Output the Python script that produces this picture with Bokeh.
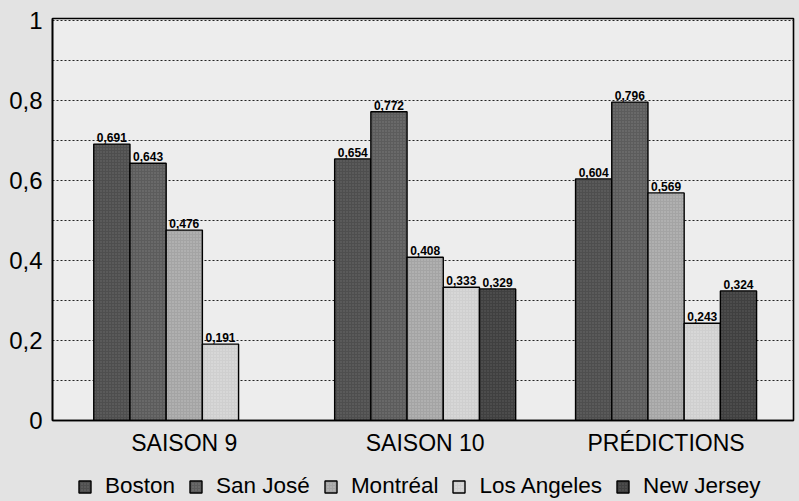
from bokeh.plotting import figure
from bokeh.layouts import column
from bokeh.models import (ColumnDataSource, Range1d, FixedTicker, Legend, LegendItem)
from bokeh.core.properties import value
from bokeh.embed import file_html
from bokeh.resources import INLINE

# ---- data ----
categories = ["SAISON 9", "SAISON 10", "PRÉDICTIONS"]
teams = ["Boston", "San José", "Montréal", "Los Angeles", "New Jersey"]
boston = [0.691, 0.654, 0.604]
san_jose = [0.643, 0.772, 0.796]
montreal = [0.476, 0.408, 0.569]
los_angeles = [0.191, 0.333, 0.243]
new_jersey = [None, 0.329, 0.324]
y_ticks = [0, 0.2, 0.4, 0.6, 0.8, 1]
y_tick_labels = ["0", "0,2", "0,4", "0,6", "0,8", "1"]
y_minor_ticks = [0.1, 0.3, 0.5, 0.7, 0.9]

series = [boston, san_jose, montreal, los_angeles, new_jersey]
colors = ["#4e4e4e", "#5c5c5c", "#a4a4a4", "#cfcfcf", "#404040"]
hatch_colors = ["#8a8a8a", "#9a9a9a", "#e0e0e0", "#f4f4f4", "#7a7a7a"]

FONT = "Liberation Sans"
BORDER = "#e3e3e3"
bar_w = 0.1503

def bar_style(j):
    return dict(fill_color=colors[j], line_color="black", line_width=1.4,
                hatch_pattern="dot", hatch_color=hatch_colors[j],
                hatch_scale=3, hatch_alpha=0.5)

p = figure(width=799, height=462, output_backend="svg", toolbar_location=None,
           x_range=Range1d(-0.547, 2.529), y_range=Range1d(0, 1.005),
           min_border_left=52, min_border_right=6, min_border_top=18,
           min_border_bottom=42)
p.background_fill_color = "#ededed"
p.border_fill_color = BORDER
p.outline_line_color = "black"
p.outline_line_width = 1.6

for j, (team, vals) in enumerate(zip(teams, series)):
    xs, tops, labels = [], [], []
    for i, v in enumerate(vals):
        if v is None:
            continue
        xs.append(i + (j - 2) * bar_w)
        tops.append(v)
        labels.append(f"{v:.3f}".replace(".", ","))
    src = ColumnDataSource(dict(x=xs, top=tops, label=labels))
    p.vbar(x="x", top="top", width=bar_w, source=src, **bar_style(j))
    p.text(x="x", y="top", text="label", source=src, text_align="center",
           text_baseline="bottom", y_offset=-2, text_font=value(FONT),
           text_font_size="12px", text_font_style="bold", text_color="black")

# y axis
p.yaxis.ticker = FixedTicker(ticks=y_ticks, minor_ticks=y_minor_ticks)
p.yaxis.major_label_overrides = {t: l for t, l in zip(y_ticks, y_tick_labels)}
p.yaxis.major_label_text_font = FONT
p.yaxis.major_label_text_font_size = "24px"
p.yaxis.major_label_text_color = "black"
p.yaxis.major_label_standoff = 10
p.yaxis.major_tick_out = 0
p.yaxis.major_tick_in = 0
p.yaxis.minor_tick_out = 0
p.yaxis.minor_tick_in = 0
p.yaxis.axis_line_color = "black"
p.yaxis.axis_line_width = 1.6

p.ygrid.grid_line_color = "#222222"
p.ygrid.grid_line_dash = "2 2"
p.ygrid.grid_line_width = 1.2
p.ygrid.minor_grid_line_color = "#222222"
p.ygrid.minor_grid_line_dash = "2 2"
p.ygrid.minor_grid_line_width = 1.2
p.xgrid.grid_line_color = None

# x axis
p.xaxis.ticker = FixedTicker(ticks=[0, 1, 2])
p.xaxis.major_label_overrides = {i: c for i, c in enumerate(categories)}
p.xaxis.major_label_text_font = FONT
p.xaxis.major_label_text_font_size = "23px"
p.xaxis.major_label_text_color = "black"
p.xaxis.major_label_standoff = 9
p.xaxis.major_tick_out = 0
p.xaxis.major_tick_in = 0
p.xaxis.minor_tick_out = 0
p.xaxis.axis_line_color = "black"
p.xaxis.axis_line_width = 1.6

# legend strip: hidden proxy renderers, legend drawn at full strength
lg = figure(width=799, height=39, output_backend="svg", toolbar_location=None,
            x_range=Range1d(-1, 5), y_range=Range1d(100, 101),
            x_axis_type=None, y_axis_type=None, min_border=0)
lg.outline_line_color = None
lg.background_fill_color = BORDER
lg.border_fill_color = BORDER
lg.grid.grid_line_color = None
items = []
for j, team in enumerate(teams):
    r = lg.vbar(x=[j], top=[0], width=0.5, **bar_style(j))
    r.visible = False
    items.append(LegendItem(label=team, renderers=[r]))
legend = Legend(items=items, orientation="horizontal", location=(25, 2),
                label_text_font=FONT, label_text_font_size="22.5px",
                label_text_color="black", glyph_width=15, glyph_height=15,
                label_standoff=13, spacing=13, padding=0, margin=0,
                background_fill_alpha=0, border_line_color=None,
                inactive_fill_alpha=0)
lg.add_layout(legend, "center")

layout = column(p, lg, spacing=0, styles={"background-color": BORDER})
open("out.html", "w").write(file_html(layout, INLINE))
